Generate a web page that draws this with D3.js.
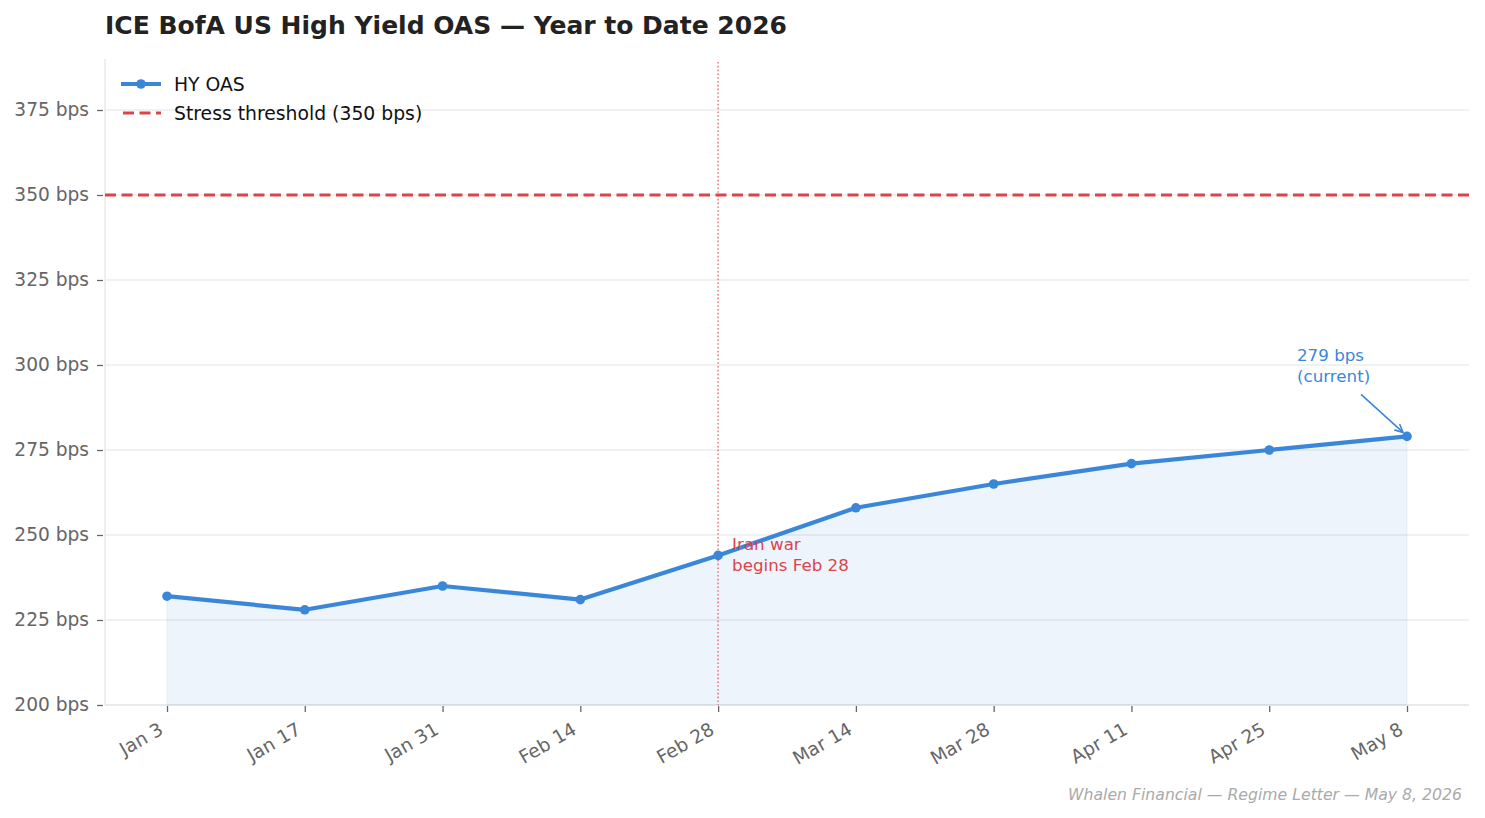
<!DOCTYPE html>
<html><head><meta charset="utf-8">
<script src="https://cdn.jsdelivr.net/npm/d3@7"></script>
<style>body{margin:0;background:#fff}svg{display:block}text{font-family:"DejaVu Sans",sans-serif}</style>
</head><body>
<svg id="c" width="1485" height="818"></svg>
<script>
const dates = ["Jan 3","Jan 17","Jan 31","Feb 14","Feb 28","Mar 14","Mar 28","Apr 11","Apr 25","May 8"];
const hyOas = [232,228,235,231,244,258,265,271,275,279];
const yTicks = [200,225,250,275,300,325,350,375];
const stressLevel = 350;
const eventIndex = 4;

const svg = d3.select("#c");
const L=105, R=1469, T=59, B=705;
const x = d3.scaleLinear().domain([-0.45, dates.length-1+0.45]).range([L,R]);
const y = d3.scaleLinear().domain([200,390]).range([B,T]);
const blue="#3a87d9", red="#d9454b";

// grid
svg.append("g").selectAll("line").data(yTicks).join("line")
  .attr("x1",L).attr("x2",R).attr("y1",d=>y(d)).attr("y2",d=>y(d))
  .attr("stroke","#ececec").attr("stroke-width",1.5);

// spines
svg.append("line").attr("x1",L).attr("x2",L).attr("y1",T).attr("y2",B).attr("stroke","#e4e4e4").attr("stroke-width",1.2);
svg.append("line").attr("x1",L).attr("x2",R).attr("y1",B).attr("y2",B).attr("stroke","#e4e4e4").attr("stroke-width",1.2);

// y axis
const yAx = svg.append("g").attr("transform",`translate(${L},0)`)
  .call(d3.axisLeft(y).tickValues(yTicks).tickFormat(d=>d+" bps").tickSize(6).tickPadding(8));
yAx.select(".domain").remove();
yAx.selectAll(".tick line").attr("stroke","#666").attr("stroke-width",1.3).attr("transform","translate(-2,0)");
yAx.selectAll(".tick text").attr("fill","#666").style("font-size","18.6px").style("font-family","DejaVu Sans").attr("x",-16);

// x axis
const xAx = svg.append("g").attr("transform",`translate(0,${B})`)
  .call(d3.axisBottom(x).tickValues(d3.range(dates.length)).tickFormat(i=>dates[i]).tickSize(6));
xAx.select(".domain").remove();
xAx.selectAll(".tick line").attr("stroke","#666").attr("stroke-width",1.3).attr("transform","translate(0,1)");
xAx.selectAll(".tick text").attr("fill","#666").style("font-size","18.6px").style("font-family","DejaVu Sans")
  .attr("text-anchor","end").attr("y",0).attr("dy",0)
  .attr("transform","translate(-3,28) rotate(-30)");

// area
const idx = d3.range(dates.length);
svg.append("path").datum(idx)
  .attr("d", d3.area().x(i=>x(i)).y0(y(200)).y1(i=>y(hyOas[i])))
  .attr("fill",blue).attr("fill-opacity",0.09).attr("stroke",blue).attr("stroke-opacity",0.06).attr("stroke-width",1.5);

// stress line
svg.append("line").attr("x1",L).attr("x2",R).attr("y1",y(stressLevel)).attr("y2",y(stressLevel))
  .attr("stroke",red).attr("stroke-width",2.8).attr("stroke-dasharray","11,5.5");

// event line
svg.append("line").attr("x1",x(eventIndex)).attr("x2",x(eventIndex)).attr("y1",T+3).attr("y2",B)
  .attr("stroke",red).attr("stroke-opacity",0.6).attr("stroke-width",1.8).attr("stroke-dasharray","1.6,2.2");

// line
svg.append("path").datum(idx)
  .attr("d", d3.line().x(i=>x(i)).y(i=>y(hyOas[i])))
  .attr("fill","none").attr("stroke",blue).attr("stroke-width",4.2).attr("stroke-linejoin","round");
svg.append("g").selectAll("circle").data(idx).join("circle")
  .attr("cx",i=>x(i)).attr("cy",i=>y(hyOas[i])).attr("r",4.8).attr("fill",blue);

// event annotation
const ev = svg.append("text").attr("fill",red).style("font-size","16.7px");
ev.append("tspan").attr("x",x(eventIndex)+14).attr("y",y(hyOas[eventIndex])-5).text("Iran war");
ev.append("tspan").attr("x",x(eventIndex)+14).attr("y",y(hyOas[eventIndex])+16).text("begins Feb 28");

// current annotation
const last = dates.length-1;
const lx = x(last), ly = y(hyOas[last]);
const cur = svg.append("text").attr("fill",blue).style("font-size","16.7px");
cur.append("tspan").attr("x",lx-110).attr("y",ly-75).text(hyOas[last]+" bps");
cur.append("tspan").attr("x",lx-110).attr("y",ly-54).text("(current)");
svg.append("line").attr("x1",lx-46).attr("y1",ly-42).attr("x2",lx-4).attr("y2",ly-4)
  .attr("stroke",blue).attr("stroke-width",1.6);
// arrow head
const ang = Math.atan2(38,42);
const hx=lx-4, hy=ly-4, hl=9;
svg.append("path").attr("d",`M${hx-hl*Math.cos(ang-0.45)},${hy-hl*Math.sin(ang-0.45)}L${hx},${hy}L${hx-hl*Math.cos(ang+0.45)},${hy-hl*Math.sin(ang+0.45)}`)
  .attr("fill","none").attr("stroke",blue).attr("stroke-width",1.6);

// legend
const lg = svg.append("g");
lg.append("line").attr("x1",121).attr("x2",161).attr("y1",84).attr("y2",84).attr("stroke",blue).attr("stroke-width",4.2);
lg.append("circle").attr("cx",141).attr("cy",84).attr("r",4.8).attr("fill",blue);
lg.append("text").attr("x",174).attr("y",84).attr("dy","0.35em").style("font-size","18.8px").attr("fill","#111").text("HY OAS");
lg.append("line").attr("x1",123).attr("x2",161).attr("y1",113).attr("y2",113).attr("stroke",red).attr("stroke-width",2.8).attr("stroke-dasharray","11,5.5");
lg.append("text").attr("x",174).attr("y",113).attr("dy","0.35em").style("font-size","18.8px").attr("fill","#111").text("Stress threshold (350 bps)");

// title
svg.append("text").attr("x",105).attr("y",34).style("font-size","25px").style("font-weight","bold").attr("fill","#222")
  .text("ICE BofA US High Yield OAS — Year to Date 2026");

// footer
svg.append("text").attr("x",1462).attr("y",800).attr("text-anchor","end").style("font-size","15.7px").style("font-style","italic")
  .attr("fill","#aaa").text("Whalen Financial — Regime Letter — May 8, 2026");
</script>
</body></html>
